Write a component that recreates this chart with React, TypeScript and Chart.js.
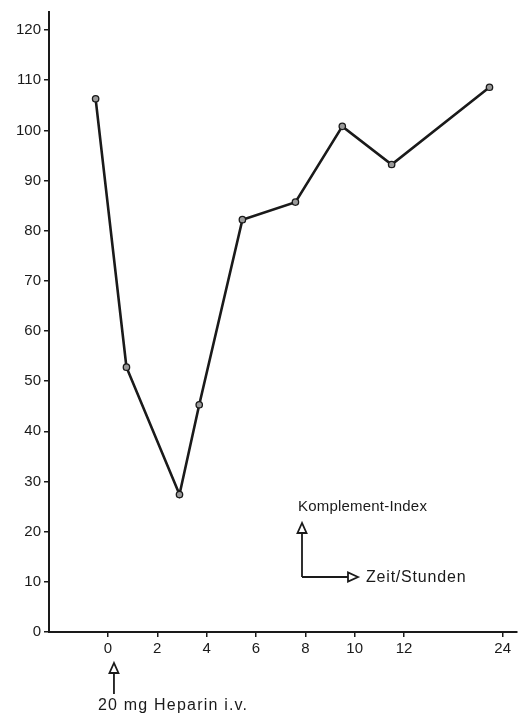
import React, { useEffect, useRef } from "react";
import { Chart, registerables } from "chart.js";

Chart.register(...registerables);

// Time after injection (hours) and complement index readings
const hours = [-0.5, 0.75, 2.9, 3.7, 5.45, 7.6, 9.5, 11.5, 22.4];
const komplementIndex = [106.3, 52.8, 27.4, 45.3, 82.2, 85.7, 100.8, 93.2, 108.6];
const xTickHours = [0, 2, 4, 6, 8, 10, 12, 24];
const yTickValues = [0, 10, 20, 30, 40, 50, 60, 70, 80, 90, 100, 110, 120];

const yAxisLabel = "Komplement-Index";
const xAxisLabel = "Zeit/Stunden";
const injectionNote = "20 mg Heparin i.v.";

// broken time axis: beyond 12 h, one unit of axis = 3 hours
const axisPos = (h: number) => (h <= 12 ? h : 12 + (h - 12) / 3);

const FONT = "'Liberation Sans', Arial, sans-serif";
const INK = "#1a1a1a";

function hollowHead(ctx: CanvasRenderingContext2D, tipX: number, tipY: number, dir: "up" | "right") {
  ctx.beginPath();
  if (dir === "up") {
    ctx.moveTo(tipX, tipY);
    ctx.lineTo(tipX - 4.5, tipY + 10);
    ctx.lineTo(tipX + 4.5, tipY + 10);
  } else {
    ctx.moveTo(tipX, tipY);
    ctx.lineTo(tipX - 10, tipY - 4.5);
    ctx.lineTo(tipX - 10, tipY + 4.5);
  }
  ctx.closePath();
  ctx.fillStyle = "#fff";
  ctx.fill();
  ctx.stroke();
}

const annotationPlugin = {
  id: "annotations",
  afterDraw(chart: any) {
    const ctx: any = chart.ctx;
    const xs = chart.scales.x;
    ctx.save();
    ctx.strokeStyle = INK;
    ctx.fillStyle = INK;
    ctx.lineWidth = 1.8;

    // Key: axes arrows
    const ox = 302, oy = 577;
    ctx.beginPath();
    ctx.moveTo(ox, oy);
    ctx.lineTo(ox, 533);
    ctx.moveTo(ox, oy);
    ctx.lineTo(348, oy);
    ctx.stroke();
    hollowHead(ctx, ox, 523, "up");
    hollowHead(ctx, 358, oy, "right");

    ctx.fillStyle = INK;
    ctx.font = `15px ${FONT}`;
    ctx.textBaseline = "middle";
    ctx.textAlign = "left";
    ctx.letterSpacing = "0.2px";
    ctx.fillText(yAxisLabel, 298, 507);
    ctx.font = `16px ${FONT}`;
    ctx.letterSpacing = "0.8px";
    ctx.fillText(xAxisLabel, 366, 578);

    // Injection arrow below time 0
    const ax = xs.getPixelForValue(axisPos(0)) + 6;
    ctx.beginPath();
    ctx.moveTo(ax, 694);
    ctx.lineTo(ax, 673);
    ctx.stroke();
    hollowHead(ctx, ax, 663, "up");
    ctx.fillStyle = INK;
    ctx.font = `16px ${FONT}`;
    ctx.letterSpacing = "1.2px";
    ctx.fillText(injectionNote, 98, 706);
    ctx.restore();
  },
};

export default function App() {
  const canvasRef = useRef<HTMLCanvasElement | null>(null);

  useEffect(() => {
    if (!canvasRef.current) return;
    const chart = new Chart(canvasRef.current, {
      type: "line",
      data: {
        datasets: [
          {
            data: hours.map((h, i) => ({ x: axisPos(h), y: komplementIndex[i] })),
            borderColor: INK,
            borderWidth: 2.6,
            pointRadius: 3.2,
            pointBackgroundColor: "#9a9a9a",
            pointBorderColor: INK,
            pointBorderWidth: 1.3,
            tension: 0,
          },
        ],
      },
      options: {
        responsive: false,
        animation: false,
        layout: { padding: { top: 8, right: 1, left: 0, bottom: 0 } },
        plugins: { legend: { display: false }, tooltip: { enabled: false } },
        scales: {
          x: {
            type: "linear",
            min: -2.39,
            max: 16.57,
            afterFit: (s: any) => {
              s.height = 82;
            },
            afterBuildTicks: (s: any) => {
              s.ticks = xTickHours.map((h) => ({ value: axisPos(h) }));
            },
            ticks: {
              callback: (_v: any, i: number) => String(xTickHours[i]),
              color: INK,
              font: { family: FONT, size: 15 },
              padding: 3,
              maxRotation: 0,
              autoSkip: false,
            },
            grid: { display: true, drawOnChartArea: false, drawTicks: true, tickLength: 5, color: INK, lineWidth: 1.5 },
            border: { display: true, color: INK, width: 2 },
          },
          y: {
            type: "linear",
            min: 0,
            max: 123.6,
            afterFit: (s: any) => {
              s.width = 49;
            },
            afterBuildTicks: (s: any) => {
              s.ticks = yTickValues.map((v) => ({ value: v }));
            },
            ticks: {
              color: INK,
              font: { family: FONT, size: 15 },
              padding: 3,
              autoSkip: false,
            },
            grid: { display: true, drawOnChartArea: false, drawTicks: true, tickLength: 5, color: INK, lineWidth: 1.5 },
            border: { display: true, color: INK, width: 2 },
          },
        },
      },
      plugins: [annotationPlugin],
    } as any);
    return () => chart.destroy();
  }, []);

  return (
    <div style={{ position: "absolute", left: 0, top: 0, width: 522, height: 714, background: "#fff" }}>
      <canvas ref={canvasRef} width={522} height={714} style={{ display: "block" }} />
    </div>
  );
}
